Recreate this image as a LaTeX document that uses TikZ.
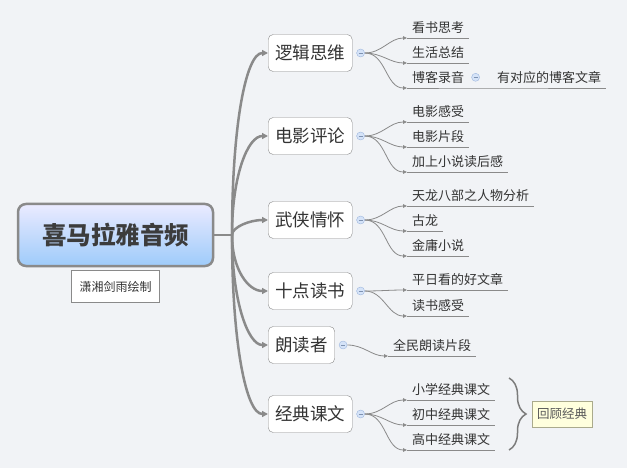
\documentclass[tikz,border=0pt]{standalone}
\usepackage{fontspec}
\setmainfont{Noto Sans CJK SC}
\usepackage{tikz}
\usetikzlibrary{positioning, arrows.meta, decorations.pathreplacing}

\definecolor{bgc}{HTML}{F1F3F6}
\definecolor{linec}{HTML}{8A8A8A}
\definecolor{textc}{HTML}{333333}
\definecolor{foldfill}{HTML}{D5E3F8}
\definecolor{folddraw}{HTML}{9DB6DE}

\begin{document}
\begin{tikzpicture}[
  x=1pt, y=-1pt,
  rootbox/.style={draw=linec, line width=2.5pt, rounded corners=8pt, top color=blue!8, bottom color={rgb,255:red,158;green,203;blue,250},
    minimum width=195pt, minimum height=62pt, font=\fontsize{24.5pt}{28pt}\selectfont\bfseries, text={rgb,255:red,60;green,60;blue,60}},
  notebox/.style={draw=linec, fill=white, minimum width=88pt, minimum height=32pt, inner sep=2pt, font=\fontsize{12pt}{14pt}\selectfont, text=textc},
  topic/.style={draw=linec, rounded corners=5pt, fill=white, minimum height=37pt, inner xsep=7pt, font=\fontsize{17.5pt}{20pt}\selectfont, text=textc},
  fold/.style={circle, draw=folddraw, fill=foldfill, minimum size=8pt, inner sep=0pt,
    path picture={\draw[folddraw!80!black] ([xshift=-2pt]path picture bounding box.center) -- ([xshift=2pt]path picture bounding box.center);}},
  leaf/.style={anchor=south west, inner xsep=5pt, inner ysep=5.5pt, text height=10pt, text depth=0pt, font=\fontsize{13pt}{15pt}\selectfont, text=textc},
  trunk/.style={draw=linec, line width=2.5pt},
  twig/.style={draw=linec, line width=0.8pt},
  sumbox/.style={draw={rgb,255:red,170;green,170;blue,140}, fill={rgb,255:red,255;green,255;blue,221}, minimum width=60pt, minimum height=26pt, inner sep=2pt, font=\fontsize{12.5pt}{14pt}\selectfont, text=black!65}
]
  % background and picture size
  \fill[bgc] (0,0) rectangle (627,468);
  \useasboundingbox (0,0) rectangle (627,468);

  % 1. central topic
  \node[rootbox] (root) at (115.5,235) {喜马拉雅音频};
  \node[notebox, below=3pt of root] (note) {潇湘剑雨绘制};
  \coordinate (jn) at (232,235);

  % 2. main branches
  \node[topic, anchor=west] (b1) at (268,53) {逻辑思维};
  \node[topic, anchor=west] (b2) at (268,136) {电影评论};
  \node[topic, anchor=west] (b3) at (268,220) {武侠情怀};
  \node[topic, anchor=west] (b4) at (268,291) {十点读书};
  \node[topic, anchor=west] (b5) at (268,345) {朗读者};
  \node[topic, anchor=west] (b6) at (268,414) {经典课文};

  \node[fold, right=4pt of b1] (f1) {};
  \node[fold, right=4pt of b2] (f2) {};
  \node[fold, right=4pt of b3] (f3) {};
  \node[fold, right=4pt of b4] (f4) {};
  \node[fold, right=4pt of b5] (f5) {};
  \node[fold, right=4pt of b6] (f6) {};

  % 3. trunk from the centre to each branch
  \draw[trunk] (root.east) -- (jn);
  \draw[trunk, -{Triangle[length=6pt,width=6pt]}] (jn) to[out=90, in=180, out distance=110pt, in distance=22pt] (b1.west);
  \draw[trunk, -{Triangle[length=6pt,width=6pt]}] (jn) to[out=90, in=180, out distance=60pt, in distance=20pt] (b2.west);
  \draw[trunk, -{Triangle[length=6pt,width=6pt]}] (jn) to[out=90, in=180, out distance=8pt, in distance=18pt] (b3.west);
  \draw[trunk, -{Triangle[length=6pt,width=6pt]}] (jn) to[out=-90, in=180, out distance=34pt, in distance=20pt] (b4.west);
  \draw[trunk, -{Triangle[length=6pt,width=6pt]}] (jn) to[out=-90, in=180, out distance=66pt, in distance=20pt] (b5.west);
  \draw[trunk, -{Triangle[length=6pt,width=6pt]}] (jn) to[out=-90, in=180, out distance=108pt, in distance=22pt] (b6.west);

  % 4. leaves
  \node[leaf] (l11) at (407,38) {看书思考};
  \node[leaf] (l12) at (407,63) {生活总结};
  \node[leaf] (l13) at (407,88) {博客录音};
  \node[fold, right=2pt of l13] (f13) {};
  \node[leaf] (l131) at (492,88) {有对应的博客文章};

  \node[leaf] (l21) at (407,122) {电影感受};
  \node[leaf] (l22) at (407,147) {电影片段};
  \node[leaf] (l23) at (407,172) {加上小说读后感};

  \node[leaf] (l31) at (407,206) {天龙八部之人物分析};
  \node[leaf] (l32) at (407,231) {古龙};
  \node[leaf] (l33) at (407,256) {金庸小说};

  \node[leaf] (l41) at (407,290) {平日看的好文章};
  \node[leaf] (l42) at (407,316) {读书感受};

  \node[leaf] (l51) at (388,356) {全民朗读片段};

  \node[leaf] (l61) at (407,400) {小学经典课文};
  \node[leaf] (l62) at (407,425) {初中经典课文};
  \node[leaf] (l63) at (407,450) {高中经典课文};

  % 5. twigs from the fold circles to the leaves
  \draw[twig, -{Triangle[length=4pt,width=3.5pt]}] (f1) to[out=0, in=180] (l11.south west);
  \draw[twig, -{Triangle[length=4pt,width=3.5pt]}] (f1) to[out=0, in=180] (l12.south west);
  \draw[twig, -{Triangle[length=4pt,width=3.5pt]}] (f1) to[out=0, in=180] (l13.south west);
  \draw[twig, -{Triangle[length=4pt,width=3.5pt]}] (f2) to[out=0, in=180] (l21.south west);
  \draw[twig, -{Triangle[length=4pt,width=3.5pt]}] (f2) to[out=0, in=180] (l22.south west);
  \draw[twig, -{Triangle[length=4pt,width=3.5pt]}] (f2) to[out=0, in=180] (l23.south west);
  \draw[twig, -{Triangle[length=4pt,width=3.5pt]}] (f3) to[out=0, in=180] (l31.south west);
  \draw[twig, -{Triangle[length=4pt,width=3.5pt]}] (f3) to[out=0, in=180] (l32.south west);
  \draw[twig, -{Triangle[length=4pt,width=3.5pt]}] (f3) to[out=0, in=180] (l33.south west);
  \draw[twig, -{Triangle[length=4pt,width=3.5pt]}] (f4) to[out=0, in=180] (l41.south west);
  \draw[twig, -{Triangle[length=4pt,width=3.5pt]}] (f4) to[out=0, in=180] (l42.south west);
  \draw[twig, -{Triangle[length=4pt,width=3.5pt]}] (f5) to[out=0, in=180] (l51.south west);
  \draw[twig, -{Triangle[length=4pt,width=3.5pt]}] (f6) to[out=0, in=180] (l61.south west);
  \draw[twig, -{Triangle[length=4pt,width=3.5pt]}] (f6) to[out=0, in=180] (l62.south west);
  \draw[twig, -{Triangle[length=4pt,width=3.5pt]}] (f6) to[out=0, in=180] (l63.south west);

  % underlines
  \draw[twig] (l11.south west) -- (l11.south east) (l12.south west) -- (l12.south east)
    (l13.south west) -- (l13.south east) -- (l131.south west) -- (l131.south east);
  \draw[twig] (l21.south west) -- (l21.south east) (l22.south west) -- (l22.south east)
    (l23.south west) -- (l23.south east);
  \draw[twig] (l31.south west) -- (l31.south east) (l32.south west) -- (l32.south east)
    (l33.south west) -- (l33.south east);
  \draw[twig] (l41.south west) -- (l41.south east) (l42.south west) -- (l42.south east);
  \draw[twig] (l51.south west) -- (l51.south east);
  \draw[twig] (l61.south west) -- (l61.south east) (l62.south west) -- (l62.south east)
    (l63.south west) -- (l63.south east);

  % 6. summary brace
  \coordinate (bt1) at (509,378);
  \coordinate (bt2) at (509,450);
  \draw[draw=linec!90!black, line width=1.5pt, decorate, decoration={brace, amplitude=17pt}] (bt1) -- (bt2);
  \node[sumbox, anchor=west] (sum) at (532,414) {回顾经典};

\end{tikzpicture}
\end{document}
